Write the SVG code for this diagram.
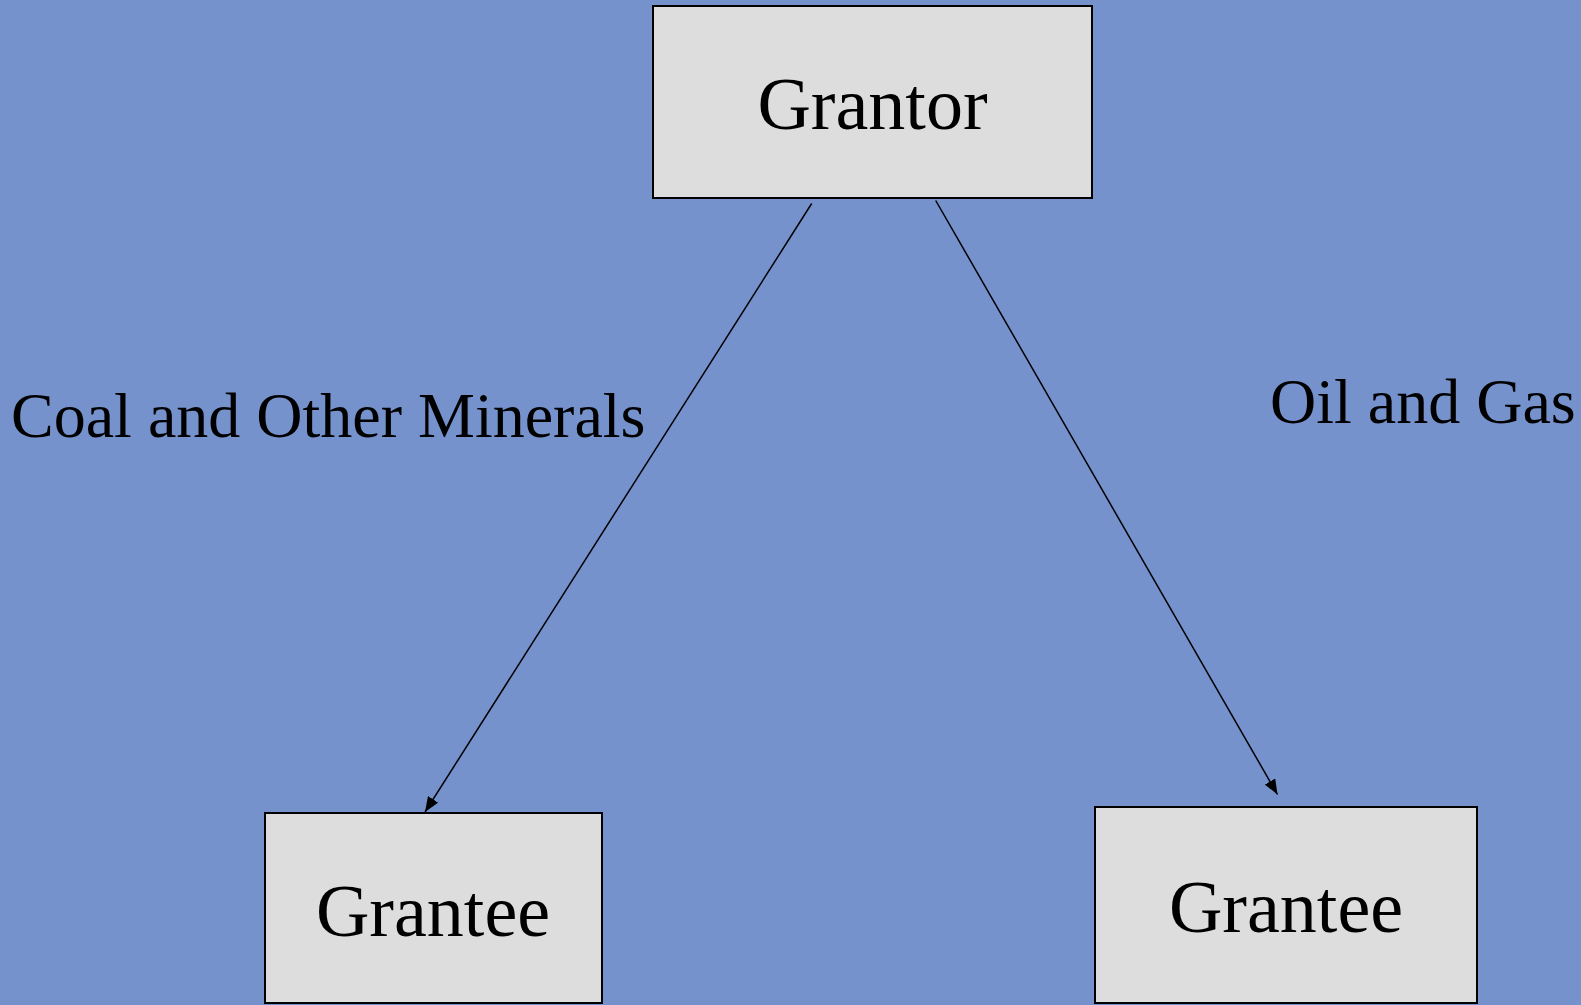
<svg xmlns="http://www.w3.org/2000/svg" width="1581" height="1005" viewBox="0 0 1581 1005">
  <style>
    .box { fill: #dddddd; stroke: #000000; stroke-width: 2; }
    .name { font-family: "Liberation Serif", "Times New Roman", serif; font-size: 74px; fill: #000000; text-anchor: middle; }
    .label { font-family: "Liberation Serif", "Times New Roman", serif; font-size: 64px; fill: #000000; }
    .link { stroke: #000000; stroke-width: 1.5; fill: none; marker-end: url(#arrow); }
  </style>
  <defs>
    <marker id="arrow" viewBox="0 0 15 12" refX="15" refY="6" markerWidth="15" markerHeight="12" markerUnits="userSpaceOnUse" orient="auto">
      <path d="M0,0 L15,6 L0,12 Z" fill="#000000"/>
    </marker>
  </defs>

  <rect x="0" y="0" width="1581" height="1005" fill="#7592cd"/>

  <g id="grantor">
    <rect class="box" x="653" y="6" width="439" height="192"/>
    <text class="name" x="872.5" y="129">Grantor</text>
  </g>

  <g id="grantee-left">
    <rect class="box" x="265" y="813" width="337" height="190"/>
    <text class="name" x="433" y="936">Grantee</text>
  </g>

  <g id="grantee-right">
    <rect class="box" x="1095" y="807" width="382" height="196"/>
    <text class="name" x="1286" y="932">Grantee</text>
  </g>

  <g id="connectors">
    <line class="link" x1="811.7" y1="203.5" x2="425" y2="812"/>
    <line class="link" x1="935.7" y1="200.5" x2="1277.5" y2="794.5"/>
  </g>

  <g id="labels">
    <text class="label" x="11" y="437">Coal and Other Minerals</text>
    <text class="label" x="1270" y="423">Oil and Gas</text>
  </g>
</svg>
